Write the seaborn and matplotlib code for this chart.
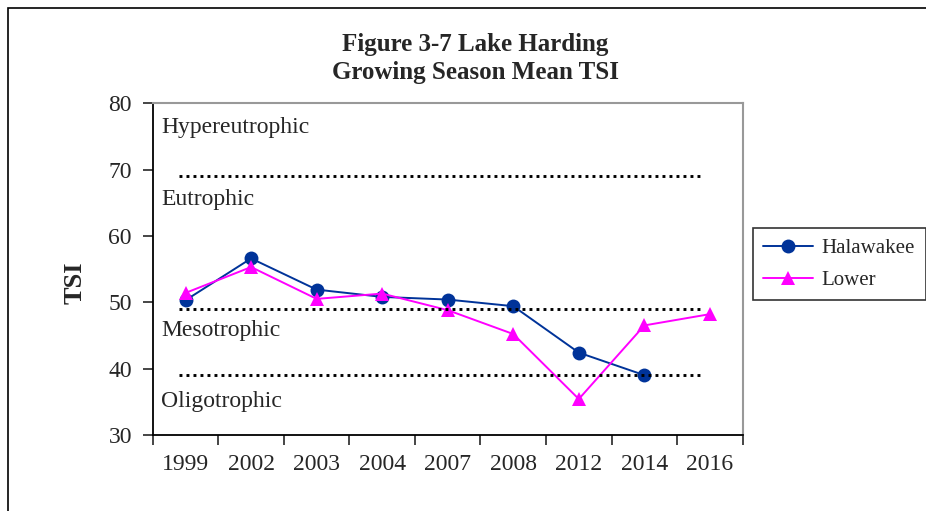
import numpy as np
import pandas as pd
import matplotlib
matplotlib.use("Agg")
import matplotlib.pyplot as plt
import seaborn as sns
from matplotlib.patches import Rectangle

# --- données ---
years = ["1999", "2002", "2003", "2004", "2007", "2008", "2012", "2014", "2016"]
halawakee = [50.3, 56.6, 51.9, 50.8, 50.4, 49.4, 42.4, 39.0, np.nan]
lower = [51.4, 55.3, 50.5, 51.3, 48.8, 45.2, 35.4, 46.5, 48.2]

trophic_limits = [69, 49, 39]
trophic_labels = ["Hypereutrophic", "Eutrophic", "Mesotrophic", "Oligotrophic"]
trophic_label_y = [76.4, 65.5, 45.7, 35.0]

df = pd.concat([
    pd.DataFrame({"year": years, "tsi": halawakee, "site": "Halawakee"}),
    pd.DataFrame({"year": years, "tsi": lower, "site": "Lower"}),
]).dropna()

sns.set_style("white")
plt.rcParams["font.family"] = ["Liberation Serif", "DejaVu Serif"]

fig = plt.figure(figsize=(9.26, 5.11), dpi=100)
ax = fig.add_axes([0.165, 0.149, 0.637, 0.649])

# cadre extérieur (coupé à droite et en bas)
fig.patches.append(Rectangle((8 / 926, -0.1), 1.0, 1 - 8 / 511 + 0.1,
                             transform=fig.transFigure, fill=False,
                             edgecolor="black", linewidth=1.2))

palette = {"Halawakee": "#003399", "Lower": "#FF00FF"}
sns.lineplot(data=df, x="year", y="tsi", hue="site", style="site",
             markers={"Halawakee": "o", "Lower": "^"}, dashes=False,
             palette=palette, markersize=10, linewidth=1.4,
             markeredgewidth=0, sort=False, ax=ax)

for lim in trophic_limits:
    ax.hlines(lim, -0.1, 7.9, colors="black", linestyles=(0, (1, 1.4)), linewidth=2.1)
for lab, ly in zip(trophic_labels, trophic_label_y):
    ax.text(-0.37, ly, lab, fontsize=17, va="center", ha="left")

ax.set_xlim(-0.5, len(years) - 0.5)
ax.set_ylim(30, 80)
ax.set_yticks(range(30, 81, 10))
ax.set_xticks(np.arange(-0.5, len(years), 1), minor=True)
ax.tick_params(axis="x", which="major", length=0, labelsize=17, pad=14)
ax.tick_params(axis="x", which="minor", length=7, width=1.2, direction="out", bottom=True)
ax.tick_params(axis="y", length=7, width=1.2, direction="out", left=True, labelsize=17, pad=8)

for side in ["left", "bottom"]:
    ax.spines[side].set_color("black")
    ax.spines[side].set_linewidth(1.3)
for side in ["top", "right"]:
    ax.spines[side].set_color("#999999")
    ax.spines[side].set_linewidth(1.5)

ax.set_xlabel("")
ax.set_ylabel("TSI", fontsize=19, fontweight="bold")
ax.yaxis.set_label_coords(-0.112, 0.46)
fig.suptitle("Figure 3-7 Lake Harding\nGrowing Season Mean TSI", x=0.513, y=0.935,
             fontsize=18, fontweight="bold", linespacing=1.25)

ax.get_legend().remove()
handles, labels = ax.get_legend_handles_labels()
leg = fig.legend(handles[-2:], labels[-2:], loc="upper left",
                 bbox_to_anchor=(753 / 926, 1 - 228 / 511), borderaxespad=0,
                 fontsize=15, frameon=True, fancybox=False, edgecolor="black",
                 handlelength=2.4, handletextpad=0.4, borderpad=0.5,
                 labelspacing=0.6)
leg.get_frame().set_linewidth(1.2)

fig.savefig("out.png", dpi=100)
